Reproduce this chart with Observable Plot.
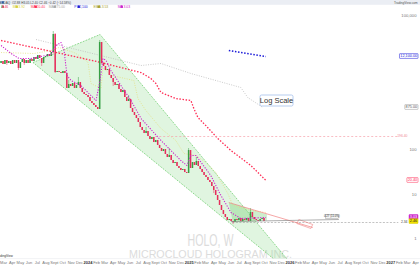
<!DOCTYPE html>
<html><head><meta charset="utf-8">
<script src="https://cdn.jsdelivr.net/npm/d3@7"></script>
<script src="https://cdn.jsdelivr.net/npm/@observablehq/plot@0.6"></script>
<style>html,body{margin:0;padding:0;background:#fff;} svg{display:block}</style>
</head><body><div id="chart"></div>
<script>
// ---------- data ----------
const startMs = Date.UTC(2023, 1, 20);   // first weekly candle (Monday)
const weekMs = 7 * 864e5;
const firstOpen = 8400;
const closes = [
  9350, 8010, 9850, 8440, 9350, 8010, 9850, 8440, 9850, 6520,
  8880, 10360, 8440, 9850, 8440, 10360, 9350, 11490, 10360, 12740,
  10910, 8440, 11490, 12100, 13410, 12100, 14870, 37580, 5306, 5589,
  5306, 5040, 5589, 5040, 2328, 2860, 2579, 3011, 2328, 2716,
  3171, 2328, 1894, 1709, 1623, 1464, 1192, 1075, 970, 875,
  789, 24890, 8440, 7230, 5885, 6193, 4547, 3896, 3171, 2716,
  2860, 2211, 1894, 2100, 1464, 1192, 1321, 831, 676, 579,
  496, 404, 312, 268, 229, 254, 196, 168, 187, 144,
  160, 124, 106, 90.7, 100.5, 77.7, 66.6, 73.8, 57.0, 48.9,
  51.4, 41.9, 37.8, 34.1, 35.9, 30.7, 29.2, 95.5, 37.8, 51.4,
  44.1, 54.2, 41.9, 35.9, 30.7, 26.3, 23.8, 20.4, 18.4, 14.9,
  12.2, 9.40, 7.27, 5.62, 4.34, 3.53, 3.03, 2.59, 2.73, 2.46,
  2.34, 2.73, 2.59, 2.88, 2.46, 2.73, 2.59, 2.88, 2.46, 3.92,
  3.03, 2.73, 2.59, 2.46, 2.73, 2.88, 2.46
];
const wickIdx  = [3,    9,    12,   21,   27,    28,    35,   40,   51,    53,   58,   66,   75,  87,    97,    101,  110,  120,  129];
const wickHigh = [null, null, null, null, 43850, 39570, 3515, 4102, 27590, 8880, null, 1623, 312, 105.8, 105.8, 66.6, null, null, 4.81];
const wickLow  = [7610, 5885, 7610, 7230, null,  5040,  null, null, null,  null, 2579, null, null, null, null,  null, 10.4, 2.11, null];

// moving averages / drawings (week index, price)
const redIdx = [0, 31, 51.7, 72.4, 77.5, 80.1, 82.7, 90.4, 98.2, 99.7, 101.8, 105.9, 112.1, 118.9, 129.2, 137];
const redVal = [27590, 14120, 8880, 5306, 3896, 3011, 1894, 1391, 1254, 831, 523, 346, 177, 95.5, 44.1, 20.4];
const grayIdx = [18.1, 72.4, 82.7, 98.2, 124, 127.6, 135.4];
const grayVal = [29050, 7610, 8440, 5040, 2451, 1464, 875];
const blueIdx = [117.8, 137];
const blueVal = [16480, 12100];
const magIdx = [0, 5.2, 9.3, 15.5, 25.8, 28.4, 31, 32.6, 34.1, 36.2, 41.3, 49.1, 51.2, 52.7, 54.3, 56.8, 62, 67.2, 72.4, 82.7, 93, 96.1, 98.2, 100.8, 108.5, 113.7, 118.9, 124, 137];
const magVal = [21330, 14120, 10910, 10910, 13410, 21330, 24890, 16480, 4547, 3515, 2716, 1254, 3515, 10910, 9850, 5885, 2716, 1254, 496, 160, 57.0, 44.1, 73.8, 73.8, 26.3, 9.40, 3.92, 2.88, 3.03];
const yelIdx = [0, 17.1, 25.8, 30, 37.7, 41.3, 45, 46.5, 51.7, 52.7, 56.8, 62, 68.7, 70.8, 74.9, 82.7, 90.4, 94.6, 100.8, 105.9, 111.1, 117.3, 119.9, 129.2, 137];
const yelVal = [14870, 14120, 16480, 19240, 14870, 12100, 8880, 3011, 2328, 6868, 4547, 4102, 3515, 1391, 750, 296.5, 159.8, 81.8, 73.8, 51.4, 30.7, 10.4, 5.62, 4.34, 3.92];
const wedgeIdx = [16.5, 51.2, 162.3, 16.5];
const wedgeVal = [8880, 37580, 0.0636, 8880];
const triIdx = [117.8, 119.9, 137.5, 137.5];
const triVal = [6.55, 2.34, 2.59, 3.57];
const resIdx = [117.8, 161.2];
const resVal = [6.55, 1.81];
const projIdx = [154, 161.2, 160.2, 153, 154];
const projVal = [2.73, 2.11, 1.72, 2.22, 2.73];
const supIdx = [118.9, 174.7];
const supVal = [2.46, 2.73];
const levelPink = 196.4, levelGray = 2.34;
const levelPinkFrom = 80, levelGrayFrom = 119.9, levelTo = 205.7;

// ticks / labels
const yTicks = [150000, 100000, 50000, 30000, 20000, 15000, 10000, 5000, 3000, 2000, 1500, 1000, 500, 300, 200, 150, 100, 50, 30, 20, 10, 5, 3, 2, 1.5, 1, 0.5, 0.3];
const monthLabels = ["Jan","Feb","Mar","Apr","May","Jun","Jul","Aug","Sept","Oct","Nov","Dec"];
const legendNames  = ["2.46", "BB 3.92", "MA 20.40", "MA 875.00", "P 12,100", "EMA 3.53", "MA 3.03"];
const legendColors = ["#e62e5c", "#d8cf3a", "#ff2d55", "#a8a8a8", "#1a1ad8", "#a8a030", "#cc22cc"];
const legendX = [1, 15, 34, 53, 77, 97, 120];
const titleText = "MICROCLOUD HOLOGRAM INC, 1W, NASDAQ  O2.88 H3.05 L2.40 C2.46 −0.42 (−14.58%)";
// right-axis value tags: value, text, background, border, text colour
const tagVals = [blueVal[1], grayVal[grayVal.length - 1], redVal[redVal.length - 1], magVal[magVal.length - 1], closes[closes.length - 1]];
const tagText = ["12,100.00", "875.00", "20.40", "3.03", "2.46"];
const tagBg = ["#fff", "#fff", "#fff", "#cc22cc", "#f2e200"];
const tagBorder = ["#1a1ad8", "#999", "#ff2d55", "#cc22cc", "#d8c800"];
const tagColor = ["#1a1ad8", "#555", "#ff2d55", "#fff", "#222"];

// ---------- build ----------
const GREEN = "#35a043", RED = "#e62e5c";
const toDate = i => new Date(startMs + i * weekMs);
const candles = closes.map((c, i) => {
  const o = i === 0 ? firstOpen : closes[i - 1];
  const k = wickIdx.indexOf(i);
  const hi = k >= 0 && wickHigh[k] != null ? wickHigh[k] : Math.max(o, c);
  const lo = k >= 0 && wickLow[k] != null ? wickLow[k] : Math.min(o, c);
  return {date: toDate(i), open: o, close: c, high: hi, low: lo, up: c >= o};
});
const pts = (idx, val) => idx.map((d, i) => ({date: toDate(d), v: val[i]}));
const line = (idx, val, o) => Plot.line(pts(idx, val), {x: "date", y: "v", strokeLinecap: "butt", ...o});

const monthTicks = d3.utcMonth.range(new Date(Date.UTC(2023, 2, 1)), new Date(Date.UTC(2027, 3, 2)));
const yearTicks = monthTicks.filter(d => d.getUTCMonth() === 0);
const plainTicks = monthTicks.filter(d => d.getUTCMonth() !== 0);

// hide axis ticks that sit under a value tag (as the reference does)
const yLog = d3.scaleLog().domain([0.386, 176300]).range([257, 4]);
const shownTicks = yTicks.filter(t => tagVals.every(v => Math.abs(yLog(v) - yLog(t)) > 4.2));

const plot = Plot.plot({
  width: 420, height: 265,
  marginTop: 0, marginLeft: 0, marginRight: 22, marginBottom: 6,
  style: {fontFamily: "Liberation Sans, Arial, sans-serif", background: "#fff", overflow: "visible"},
  x: {type: "utc", domain: [new Date(Date.UTC(2023, 1, 18)), new Date(Date.UTC(2027, 3, 18, 12))], range: [0, 420], axis: null},
  y: {type: "log", domain: [0.386, 176300], range: [257, 4], axis: null},
  marks: [
    Plot.text(["HOLO, W"], {frameAnchor: "top-left", dx: 210, dy: 245, text: d => d, fontSize: 16, fill: "#dcdcdc", textAnchor: "middle", lineAnchor: "bottom", className: "wm1"}),
    Plot.text(["MICROCLOUD HOLOGRAM INC."], {frameAnchor: "top-left", dx: 210, dy: 257.2, text: d => d, fontSize: 11.5, fill: "#dcdcdc", textAnchor: "middle", lineAnchor: "bottom", className: "wm2"}),
    line(wedgeIdx, wedgeVal, {fill: "#8edc8e", fillOpacity: 0.28, stroke: "#74cf74", strokeWidth: 0.8, strokeDasharray: "1.8,1.2", clip: true}),
    line(triIdx, triVal, {fill: "#6fcf6f", fillOpacity: 0.35, stroke: "none"}),
    line(yelIdx, yelVal, {stroke: "#e2dc74", strokeWidth: 0.7, strokeDasharray: "1,1.4"}),
    line(grayIdx, grayVal, {stroke: "#bdbdbd", strokeWidth: 0.8, strokeDasharray: "1,1.4"}),
    line(redIdx, redVal, {stroke: "#ff2d55", strokeWidth: 1.3, strokeDasharray: "1.5,1.6"}),
    line(blueIdx, blueVal, {stroke: "#1a1ad8", strokeWidth: 1.5, strokeDasharray: "1.5,1.6"}),
    Plot.ruleY([levelPink], {x1: toDate(levelPinkFrom), x2: toDate(levelTo), stroke: "#f7a1aa", strokeWidth: 0.7, strokeDasharray: "2,2"}),
    Plot.ruleY([levelGray], {x1: toDate(levelGrayFrom), x2: toDate(levelTo), stroke: "#9a9a9a", strokeWidth: 0.6, strokeDasharray: "2,1.5"}),
    Plot.ruleX(candles.filter(d => d.up), {x: "date", y1: "low", y2: "high", stroke: GREEN, strokeWidth: 0.5}),
    Plot.ruleX(candles.filter(d => !d.up), {x: "date", y1: "low", y2: "high", stroke: RED, strokeWidth: 0.5}),
    Plot.ruleX(candles.filter(d => d.up), {x: "date", y1: "open", y2: "close", stroke: GREEN, strokeWidth: 1.5}),
    Plot.ruleX(candles.filter(d => !d.up), {x: "date", y1: "open", y2: "close", stroke: RED, strokeWidth: 1.5}),
    line(magIdx, magVal, {stroke: "#cc22cc", strokeWidth: 1.1, strokeDasharray: "1.2,1.4"}),
    line(resIdx, resVal, {stroke: "#f08080", strokeWidth: 0.7}),
    line(projIdx, projVal, {stroke: "#f08080", strokeWidth: 0.6, fill: "none"}),
    line(supIdx, supVal, {stroke: "#8a8a8a", strokeWidth: 0.7}),
    Plot.axisY(shownTicks, {anchor: "right", tickSize: 0, tickPadding: 0, dx: 18, textAnchor: "end", fontSize: 4.2, fill: "#777", tickFormat: d => d3.format(",")(d)}),
    Plot.axisX(plainTicks, {anchor: "bottom", tickSize: 0, tickPadding: 1.2, fontSize: 4, fill: "#777", tickFormat: d => monthLabels[d.getUTCMonth()]}),
    Plot.axisX(yearTicks, {anchor: "bottom", tickSize: 0, tickPadding: 1.2, fontSize: 4, fill: "#333", fontWeight: "bold", tickFormat: d => String(d.getUTCFullYear())})
  ]
});
document.getElementById("chart").appendChild(plot);

// ---------- overlays (header, legend, price labels) ----------
const svg = d3.select(plot);
svg.select(".wm1 text").attr("textLength", 46).attr("lengthAdjust", "spacingAndGlyphs");
svg.select(".wm2 text").attr("textLength", 163).attr("lengthAdjust", "spacingAndGlyphs");
const ys = plot.scale("y"), xs = plot.scale("x");
const g = svg.append("g").attr("font-family", "Liberation Sans, Arial, sans-serif");

g.append("line").attr("x1", 0).attr("x2", 420).attr("y1", 258.6).attr("y2", 258.6).attr("stroke", "#e4e6ec").attr("stroke-width", 0.5);
g.append("rect").attr("x", 0).attr("y", 0).attr("width", 420).attr("height", 4.8).attr("fill", "#ebeef4");
g.append("rect").attr("x", 1.5).attr("y", 1.2).attr("width", 2.4).attr("height", 2.4).attr("fill", "#2a6fdb");
g.append("text").attr("x", 7).attr("y", 4).attr("font-size", 3.1).attr("fill", "#444").text(titleText);
g.append("text").attr("x", 417.5).attr("y", 4).attr("font-size", 3.1).attr("fill", "#555").attr("text-anchor", "end").text("TradingView.com");

legendNames.forEach((t, i) => {
  const x = legendX[i] + 0.5;
  if (i === 0) {
    g.append("rect").attr("x", x).attr("y", 5.5).attr("width", 1.2).attr("height", 2.4).attr("fill", GREEN);
    g.append("rect").attr("x", x + 1.2).attr("y", 5.5).attr("width", 1.2).attr("height", 2.4).attr("fill", RED);
  } else {
    g.append("rect").attr("x", x).attr("y", 5.5).attr("width", 2.4).attr("height", 2.4).attr("fill", legendColors[i]);
  }
  g.append("text").attr("x", x + 3.4).attr("y", 8).attr("font-size", 3.4).attr("fill", legendColors[i]).text(t);
});

tagVals.forEach((v, i) => {
  const y = ys.apply(v);
  const t = g.append("text").attr("x", 417.2).attr("y", y + 1.4).attr("font-size", 3.8).attr("text-anchor", "end").attr("fill", tagColor[i]).text(tagText[i]);
  const w = t.node().getComputedTextLength() + 1.6;
  g.insert("rect", () => t.node()).attr("x", 418 - w).attr("y", y - 2.4).attr("width", w).attr("height", 4.8)
    .attr("fill", tagBg[i]).attr("stroke", tagBorder[i]).attr("stroke-width", 0.5).attr("rx", 0.5);
});

g.append("text").attr("x", 407.5).attr("y", ys.apply(levelPink) + 1.2).attr("font-size", 3.4).attr("text-anchor", "end").attr("fill", "#f08a96").text("196.40");
g.append("text").attr("x", 407.5).attr("y", ys.apply(levelGray) + 1.2).attr("font-size", 3.4).attr("text-anchor", "end").attr("fill", "#444").text("2.34");

// support line label
{
  const x2 = xs.apply(toDate(supIdx[1])), y2 = ys.apply(supVal[1]);
  g.append("rect").attr("x", x2 - 13).attr("y", y2 - 4.4).attr("width", 13).attr("height", 3.8).attr("fill", "#f4f4f4").attr("stroke", "#8a8a8a").attr("stroke-width", 0.4);
  g.append("text").attr("x", x2 - 6.5).attr("y", y2 - 1.6).attr("font-size", 2.8).attr("text-anchor", "middle").attr("fill", "#333").text("0.27 (11.0%)");
}

// Log Scale note
g.append("rect").attr("x", 260).attr("y", 95).attr("width", 33).attr("height", 11).attr("rx", 1.5).attr("fill", "#fff").attr("stroke", "#9ab8e8").attr("stroke-width", 0.7);
g.append("text").attr("x", 276.5).attr("y", 103.2).attr("font-size", 7.5).attr("text-anchor", "middle").attr("fill", "#333").text("Log Scale");

g.append("text").attr("x", 4).attr("y", 256.6).attr("font-size", 3.2).attr("fill", "#333").text("TradingView");
</script>
</body></html>
